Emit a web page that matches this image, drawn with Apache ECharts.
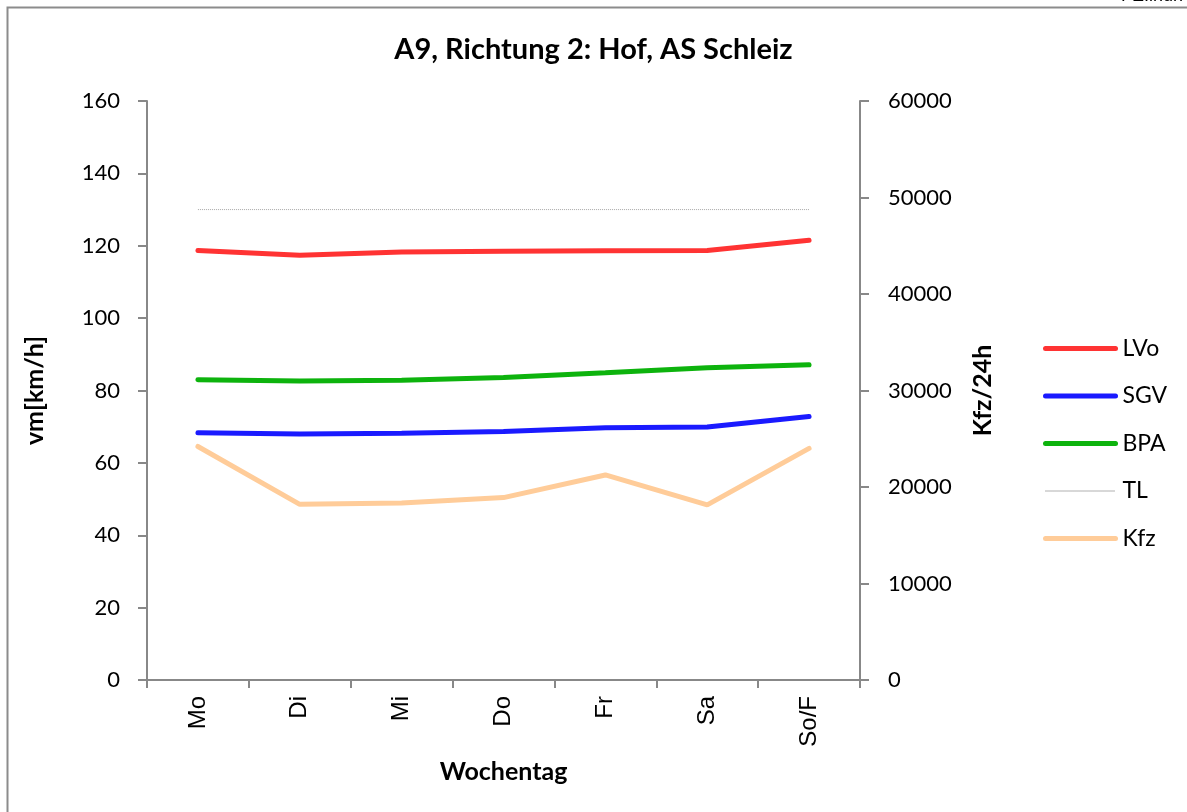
<!DOCTYPE html>
<html>
<head>
<meta charset="utf-8">
<script src="https://cdn.jsdelivr.net/npm/echarts@6/dist/echarts.min.js"></script>
<style>
  html, body { margin: 0; padding: 0; background: #fff; }
  #chart { width: 1187px; height: 812px; }
</style>
</head>
<body>
<div id="chart"></div>
<script>
// Wochentage
var days = ['Mo', 'Di', 'Mi', 'Do', 'Fr', 'Sa', 'So/F'];
// Geschwindigkeiten (km/h), linke Achse
var lvo = [118.7, 117.4, 118.3, 118.5, 118.6, 118.7, 121.5];
var sgv = [68.3, 68.0, 68.2, 68.7, 69.7, 69.9, 72.8];
var bpa = [83.0, 82.6, 82.8, 83.6, 84.9, 86.3, 87.1];
var tl = [130, 130, 130, 130, 130, 130, 130];
// Verkehrsmenge (Kfz/24h), rechte Achse
var kfz = [24200, 18200, 18350, 18900, 21250, 18150, 24000];

var font = 'Lato';
var axisGray = '#888888';

var chart = echarts.init(document.getElementById('chart'));
chart.setOption({
  animation: false,
  title: {
    text: 'A9, Richtung 2: Hof, AS Schleiz',
    left: 'center',
    top: 30,
    textStyle: { fontFamily: font, fontSize: 29, fontWeight: 'bold', color: '#000' }
  },
  graphic: [
    {
      type: 'polyline',
      shape: { points: [[7.5, 830], [7.5, 7.5], [1200, 7.5]] },
      style: { stroke: '#8c8c8c', lineWidth: 2, fill: null }
    },
    {
      type: 'text',
      right: 4,
      top: -13,
      style: { text: 'FE.indn', font: '18px "Liberation Sans"', fill: '#000' }
    }
  ],
  legend: {
    orient: 'vertical',
    left: 1043,
    top: 337,
    padding: 0,
    itemWidth: 70,
    itemHeight: 24,
    itemGap: 24.5,
    itemStyle: { opacity: 0 },
    lineStyle: { width: 'inherit', cap: 'round' },
    textStyle: { fontFamily: font, fontSize: 23, color: '#000', padding: [0, 0, 0, 2] },
    data: ['LVo', 'SGV', 'BPA', 'TL', 'Kfz']
  },
  grid: { left: 147, right: 327, top: 101, bottom: 132 },
  xAxis: {
    type: 'category',
    data: days,
    boundaryGap: true,
    name: 'Wochentag',
    nameLocation: 'middle',
    nameGap: 79,
    nameTextStyle: { fontFamily: font, fontSize: 25, fontWeight: 'bold', color: '#000' },
    axisLine: { lineStyle: { color: axisGray, width: 2 } },
    axisTick: { show: true, length: 8, lineStyle: { color: axisGray, width: 2 } },
    axisLabel: { rotate: 90, margin: 16, fontFamily: 'Liberation Sans', fontSize: 24, color: '#000' }
  },
  yAxis: [
    {
      type: 'value',
      min: 0, max: 160, interval: 20,
      name: 'vm[km/h]',
      nameLocation: 'middle',
      nameGap: 100,
      nameTextStyle: { fontFamily: font, fontSize: 25, fontWeight: 'bold', color: '#000' },
      axisLine: { show: true, lineStyle: { color: axisGray, width: 2 } },
      axisTick: { show: true, length: 9, lineStyle: { color: axisGray, width: 2 } },
      axisLabel: { margin: 27, fontFamily: font, fontSize: 22, color: '#000' },
      splitLine: { show: false }
    },
    {
      type: 'value',
      min: 0, max: 60000, interval: 10000,
      name: 'Kfz/24h',
      nameLocation: 'middle',
      nameGap: 110,
      nameTextStyle: { fontFamily: font, fontSize: 25, fontWeight: 'bold', color: '#000' },
      axisLine: { show: true, lineStyle: { color: axisGray, width: 2 } },
      axisTick: { show: true, length: 9, lineStyle: { color: axisGray, width: 2 } },
      axisLabel: {
        margin: 28, fontFamily: font, fontSize: 22, color: '#000',
        formatter: function (v) { return String(v); }
      },
      splitLine: { show: false }
    }
  ],
  series: [
    { name: 'LVo', type: 'line', data: lvo, symbol: 'none', color: '#ff3333',
      lineStyle: { width: 5, color: '#ff3333', cap: 'round' } },
    { name: 'SGV', type: 'line', data: sgv, symbol: 'none', color: '#1a1aff',
      lineStyle: { width: 5, color: '#1a1aff', cap: 'round' } },
    { name: 'BPA', type: 'line', data: bpa, symbol: 'none', color: '#0db30d',
      lineStyle: { width: 5, color: '#0db30d', cap: 'round' } },
    { name: 'TL', type: 'line', data: tl, symbol: 'none', color: '#a8a8a8',
      lineStyle: { width: 1, color: '#a8a8a8', type: [1, 1] } },
    { name: 'Kfz', type: 'line', data: kfz, yAxisIndex: 1, symbol: 'none', color: '#ffcc99', z: 1,
      lineStyle: { width: 5, color: '#ffcc99', cap: 'round' } }
  ]
});
</script>
</body>
</html>
